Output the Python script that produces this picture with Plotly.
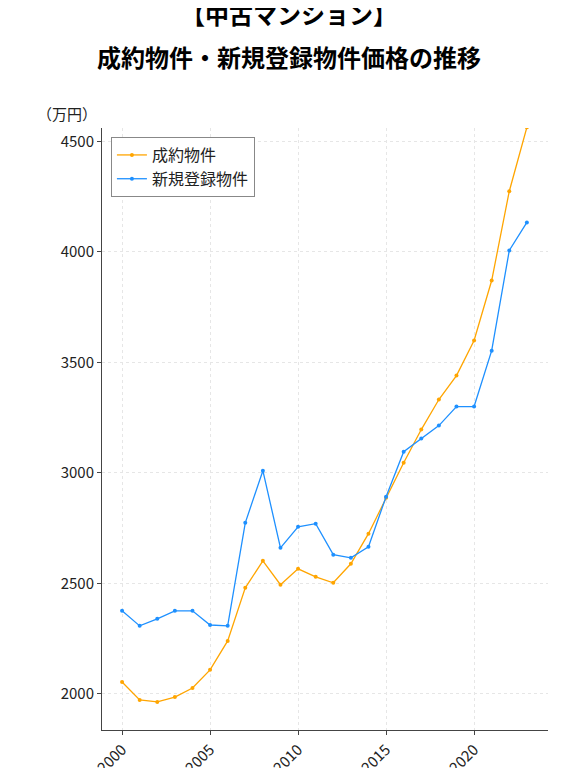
import plotly.graph_objects as go

years = list(range(2000, 2024))
seiyaku = [2054, 1973, 1964, 1986, 2027, 2109, 2240, 2480, 2602, 2494, 2566, 2530,
           2503, 2589, 2725, 2888, 3046, 3196, 3332, 3440, 3599, 3870, 4274, 4563]
shinki = [2376, 2308, 2340, 2376, 2376, 2312, 2308, 2774, 3010, 2661, 2756, 2770,
          2630, 2616, 2666, 2892, 3096, 3155, 3214, 3300, 3300, 3553, 4006, 4133]
title_lines = ['<b>【中古マンション】</b>', '<b>成約物件・新規登録物件価格の推移</b>']

fig = go.Figure()
fig.add_trace(go.Scatter(x=years, y=seiyaku, name='成約物件', mode='lines+markers',
                         line=dict(color='orange', width=1.3), marker=dict(size=4)))
fig.add_trace(go.Scatter(x=years, y=shinki, name='新規登録物件', mode='lines+markers',
                         line=dict(color='dodgerblue', width=1.3), marker=dict(size=4)))

ann = [dict(text='（万円）', xref='paper', yref='paper', x=-0.15, y=1.003,
            xanchor='left', yanchor='bottom', showarrow=False, font=dict(size=15))]
for i, t in enumerate(title_lines):
    ann.append(dict(text=t, xref='paper', yref='paper', x=0.42, y=1.19 - i * 0.072,
                    xanchor='center', yanchor='middle', showarrow=False,
                    font=dict(size=24, color='black')))

fig.update_layout(
    width=571, height=768,
    font=dict(family='Noto Sans CJK JP', size=15, color='#222'),
    plot_bgcolor='white', paper_bgcolor='white',
    margin=dict(l=94, r=31, t=120, b=46),
    legend=dict(x=0.02, y=0.985, xanchor='left', yanchor='top', bordercolor='#888', borderwidth=1,
                font=dict(size=16)),
    xaxis=dict(range=[1998.86, 2024.2], tickvals=[2000, 2005, 2010, 2015, 2020], tickangle=-45,
               showgrid=True, gridcolor='#e6e6e6', griddash='dot', showline=True, linecolor='#444',
               ticks='outside', ticklen=4, zeroline=False),
    yaxis=dict(range=[1837, 4560], tickvals=[2000, 2500, 3000, 3500, 4000, 4500],
               showgrid=True, gridcolor='#e6e6e6', griddash='dot', showline=True, linecolor='#444',
               ticks='outside', ticklen=4, zeroline=False, automargin=False),
    annotations=ann,
)
fig.update_xaxes(automargin=False)

fig.write_html('out.html')
